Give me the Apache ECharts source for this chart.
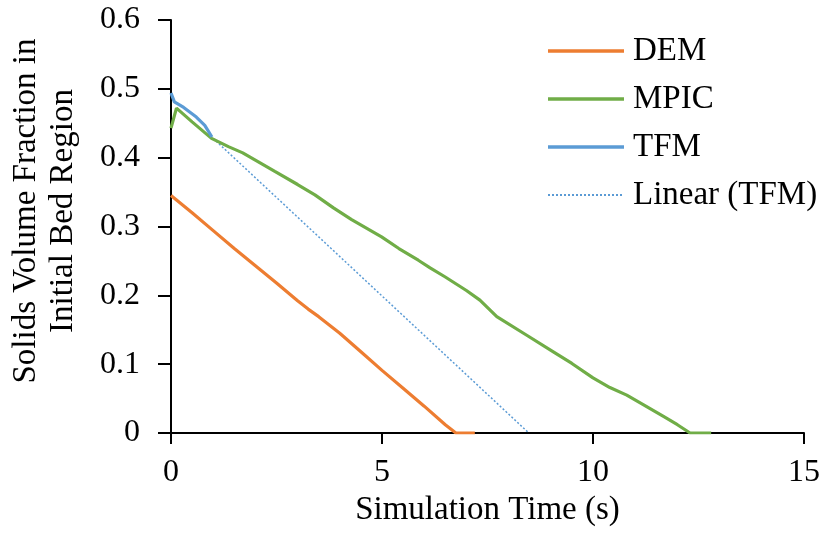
<!DOCTYPE html>
<html>
<head>
<meta charset="utf-8">
<script src="https://cdn.jsdelivr.net/npm/echarts@6/dist/echarts.min.js"></script>
<style>
  html, body { margin: 0; padding: 0; background: #fff; }
  #chart { width: 828px; height: 533px; }
</style>
</head>
<body>
<div id="chart"></div>
<script>
// Solids volume fraction remaining in the initial bed region over time
const demTime  = [0, 0.5, 1, 1.5, 2, 2.5, 3, 3.25, 3.5, 4, 4.5, 5, 5.5, 6, 6.5, 6.75, 7.0, 7.2];
const demValue = [0.345, 0.320, 0.294, 0.268, 0.243, 0.218, 0.192, 0.180, 0.169, 0.145, 0.118, 0.091, 0.065, 0.039, 0.012, 0.0, 0.0, 0.0];

const mpicTime  = [0, 0.13, 0.5, 0.96, 1.36, 1.7, 2.07, 2.46, 3.0, 3.41, 3.85, 4.28, 4.99, 5.4, 5.86, 6.14, 6.49, 7.0, 7.32, 7.72, 8.43, 9.06, 9.5, 10.0, 10.4, 10.8, 11.2, 11.67, 12.0, 12.3, 12.8];
const mpicValue = [0.443, 0.472, 0.452, 0.428, 0.416, 0.407, 0.394, 0.380, 0.361, 0.346, 0.327, 0.310, 0.285, 0.268, 0.251, 0.240, 0.227, 0.207, 0.193, 0.169, 0.142, 0.118, 0.101, 0.080, 0.066, 0.055, 0.041, 0.024, 0.012, 0.0, 0.0];

const tfmTime  = [0, 0.08, 0.3, 0.6, 0.8, 0.97];
const tfmValue = [0.494, 0.481, 0.473, 0.459, 0.447, 0.430];

// Linear trendline of the TFM curve, forecast forward to zero
const trendTime  = [1.0, 8.48];
const trendValue = [0.428, 0.0];

const xTicks = [0, 5, 10, 15];
const yTicks = [0, 0.1, 0.2, 0.3, 0.4, 0.5, 0.6];

const pairs = (xs, ys) => xs.map((x, i) => [x, ys[i]]);
const FONT = '"Liberation Serif", "Times New Roman", serif';

const COLORS = { dem: '#ED7D31', mpic: '#70AD47', tfm: '#5B9BD5' };
// thick bar-shaped legend key for the solid curves
const SOLID_KEY = 'path://M0 0H76V3.5H0Z';

const chart = echarts.init(document.getElementById('chart'), null, { renderer: 'canvas' });

chart.setOption({
  animation: false,
  backgroundColor: '#ffffff',
  grid: { left: 171, right: 24, top: 20, bottom: 100, containLabel: false },
  legend: {
    data: [
      { name: 'DEM',  icon: SOLID_KEY, itemStyle: { opacity: 1, color: COLORS.dem } },
      { name: 'MPIC', icon: SOLID_KEY, itemStyle: { opacity: 1, color: COLORS.mpic } },
      { name: 'TFM',  icon: SOLID_KEY, itemStyle: { opacity: 1, color: COLORS.tfm } },
      { name: 'Linear (TFM)' }
    ],
    orient: 'vertical',
    left: 542,
    top: 29,
    itemWidth: 76,
    itemHeight: 14,
    itemGap: 14,
    itemStyle: { opacity: 0 },
    textStyle: { fontFamily: FONT, fontSize: 33, color: '#000', lineHeight: 34, padding: [0, 0, 0, 4] }
  },
  xAxis: {
    type: 'value',
    min: xTicks[0],
    max: xTicks[xTicks.length - 1],
    interval: 5,
    name: 'Simulation Time (s)',
    nameLocation: 'middle',
    nameGap: 58,
    nameTextStyle: { fontFamily: FONT, fontSize: 33, color: '#000' },
    axisLine: { onZero: false, lineStyle: { color: '#000', width: 2 } },
    axisTick: { show: true, inside: false, length: 11, lineStyle: { color: '#000', width: 2 } },
    axisLabel: { fontFamily: FONT, fontSize: 32, color: '#000', margin: 24 },
    splitLine: { show: false }
  },
  yAxis: {
    type: 'value',
    min: yTicks[0],
    max: yTicks[yTicks.length - 1],
    interval: 0.1,
    axisLine: { show: true, onZero: false, lineStyle: { color: '#000', width: 2 } },
    axisTick: { show: true, inside: false, length: 13, lineStyle: { color: '#000', width: 2 } },
    axisLabel: { fontFamily: FONT, fontSize: 32, color: '#000', margin: 31,
                 formatter: v => String(Math.round(v * 10) / 10) },
    splitLine: { show: false }
  },
  graphic: [{
    type: 'text',
    x: 45,
    y: 211,
    rotation: Math.PI / 2,
    style: {
      text: 'Solids Volume Fraction in\nInitial Bed Region',
      fontFamily: FONT,
      fontSize: 33,
      lineHeight: 37,
      fill: '#000',
      align: 'center',
      verticalAlign: 'middle'
    }
  }],
  series: [
    {
      name: 'Linear (TFM)', type: 'line', data: pairs(trendTime, trendValue),
      showSymbol: false, symbol: 'none', z: 1,
      lineStyle: { color: COLORS.tfm, width: 1.5, type: [2, 2] },
      itemStyle: { color: COLORS.tfm }
    },
    {
      name: 'DEM', type: 'line', data: pairs(demTime, demValue),
      showSymbol: false, symbol: 'none', z: 3,
      lineStyle: { color: COLORS.dem, width: 3.2 }, itemStyle: { color: COLORS.dem }
    },
    {
      name: 'MPIC', type: 'line', data: pairs(mpicTime, mpicValue),
      showSymbol: false, symbol: 'none', z: 3,
      lineStyle: { color: COLORS.mpic, width: 3.2 }, itemStyle: { color: COLORS.mpic }
    },
    {
      name: 'TFM', type: 'line', data: pairs(tfmTime, tfmValue),
      showSymbol: false, symbol: 'none', z: 4,
      lineStyle: { color: COLORS.tfm, width: 3.2 }, itemStyle: { color: COLORS.tfm }
    }
  ]
});
</script>
</body>
</html>
